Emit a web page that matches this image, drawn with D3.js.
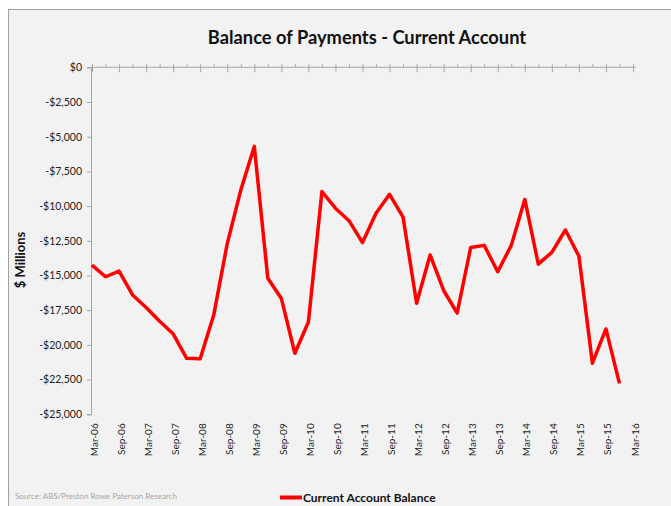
<!DOCTYPE html>
<html>
<head>
<meta charset="utf-8">
<script src="https://cdn.jsdelivr.net/npm/d3@7"></script>
<style>
  body { margin: 0; background: #fff; }
  svg text { font-family: Lato, "Liberation Sans", sans-serif; }
</style>
</head>
<body>
<div id="chart"></div>
<script>
// 季度標籤 (每兩季一個)
const tickLabels = [
    "Mar-06", "Sep-06", "Mar-07", "Sep-07", "Mar-08", "Sep-08", "Mar-09",
    "Sep-09", "Mar-10", "Sep-10", "Mar-11", "Sep-11", "Mar-12", "Sep-12",
    "Mar-13", "Sep-13", "Mar-14", "Sep-14", "Mar-15", "Sep-15", "Mar-16"
];

// Current Account Balance ($ Millions), Mar-06 .. Dec-15 每季
const balance = [
    -14250, -15090, -14680, -16400, -17300, -18300, -19200, -20970,
    -21000, -17850, -12700, -8850, -5700, -15200, -16650, -20600,
    -18350, -8950, -10150, -11050, -12620, -10520, -9150, -10800,
    -17000, -13520, -16080, -17700, -12980, -12830, -14730, -12830,
    -9520, -14180, -13330, -11720, -13600, -21320, -18850, -22770
];

const yTicks = [0, -2500, -5000, -7500, -10000, -12500, -15000, -17500, -20000, -22500, -25000];

const title = "Balance of Payments - Current Account";
const seriesName = "Current Account Balance";
const source = "Source: ABS/Preston Rowe Paterson Research";

const width = 671, height = 506;
const plotLeft = 92, plotRight = 633, plotTop = 67.3, plotBottom = 414.3;
const nCats = tickLabels.length * 2 - 1; // 41 個季度

const svg = d3.select("#chart").append("svg")
    .attr("width", width)
    .attr("height", height);

// 外框與背景
svg.append("rect")
    .attr("x", 8.5).attr("y", 9.5)
    .attr("width", 700).attr("height", 600)
    .attr("fill", "#f2f2f2")
    .attr("stroke", "#a0a0a0");

const xScale = d3.scaleLinear().domain([0, nCats - 1]).range([plotLeft, plotRight]);
const yScale = d3.scaleLinear().domain([-25000, 0]).range([plotBottom, plotTop]);

// Y 軸
const yAxis = svg.append("g")
    .attr("transform", `translate(${plotLeft - 1},0)`)
    .call(d3.axisLeft(yScale)
        .tickValues(yTicks)
        .tickSize(4)
        .tickPadding(5)
        .tickFormat(d => (d < 0 ? "-$" : "$") + d3.format(",")(Math.abs(d))));
yAxis.select(".domain").attr("stroke", "#a6a6a6");
yAxis.selectAll(".tick line").attr("stroke", "#a6a6a6");
yAxis.selectAll("text").attr("fill", "#222").style("font-size", "10.5px")
    .style("font-family", "Lato, sans-serif");

// X 軸 (在 $0 位置)：小刻度每季，大刻度每兩季
const xMinor = svg.append("g")
    .attr("transform", `translate(0,${plotTop})`)
    .call(d3.axisTop(xScale)
        .tickValues(d3.range(nCats))
        .tickSize(3)
        .tickSizeOuter(0)
        .tickFormat(""));
xMinor.select(".domain").attr("d", `M${plotLeft - 1},0H${plotRight + 3}`).attr("stroke", "#a6a6a6");
xMinor.selectAll(".tick line").attr("stroke", "#a6a6a6");

const xMajor = svg.append("g")
    .attr("transform", `translate(0,${plotTop})`)
    .call(d3.axisTop(xScale)
        .tickValues(d3.range(0, nCats, 2))
        .tickSize(-5)
        .tickFormat(""));
xMajor.select(".domain").remove();
xMajor.selectAll(".tick line").attr("stroke", "#a6a6a6");

// X 軸標籤 (底部，旋轉)
svg.append("g")
    .selectAll("text")
    .data(tickLabels)
    .enter()
    .append("text")
    .attr("transform", (d, i) => `translate(${xScale(i * 2) + 2},${plotBottom + 9}) rotate(-90)`)
    .attr("text-anchor", "end")
    .attr("dy", "0.35em")
    .attr("fill", "#222")
    .style("font-size", "10px")
    .text(d => d);

// 折線
svg.append("path")
    .datum(balance)
    .attr("fill", "none")
    .attr("stroke", "#ff0000")
    .attr("stroke-width", 3.5)
    .attr("stroke-linejoin", "round")
    .attr("d", d3.line()
        .x((d, i) => xScale(i))
        .y(d => yScale(d)));

// 標題
svg.append("text")
    .attr("x", 367).attr("y", 44)
    .attr("text-anchor", "middle")
    .attr("fill", "#111")
    .style("font-size", "18.3px")
    .style("font-weight", "bold")
    .text(title);

// Y 軸標題
svg.append("text")
    .attr("transform", "translate(25,260) rotate(-90)")
    .attr("text-anchor", "middle")
    .attr("fill", "#111")
    .style("font-size", "13px")
    .style("font-weight", "bold")
    .text("$ Millions");

// 資料來源
svg.append("text")
    .attr("x", 15).attr("y", 498.5)
    .attr("fill", "#a6a6a6")
    .style("font-size", "8px")
    .text(source);

// 圖例
svg.append("line")
    .attr("x1", 280).attr("x2", 302)
    .attr("y1", 497.5).attr("y2", 497.5)
    .attr("stroke", "#ff0000")
    .attr("stroke-width", 4);
svg.append("text")
    .attr("x", 303).attr("y", 502)
    .attr("fill", "#111")
    .style("font-size", "12px")
    .style("font-weight", "bold")
    .text(seriesName);
</script>
</body>
</html>
